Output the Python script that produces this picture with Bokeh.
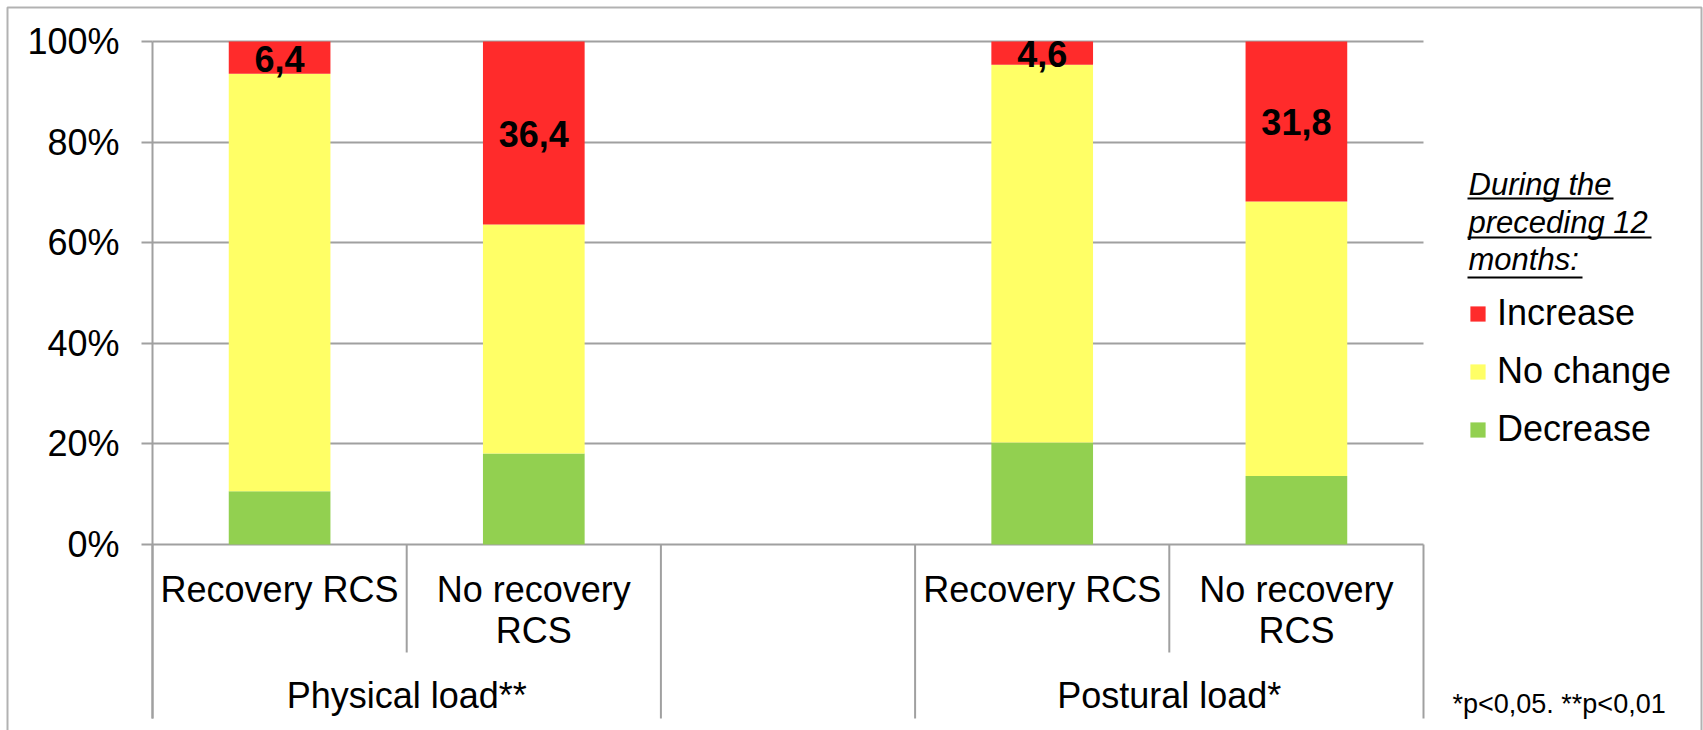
from bokeh.plotting import figure
from bokeh.models import (Range1d, FixedTicker, ColumnDataSource, Legend, LegendItem,
                          BoxAnnotation)
from bokeh.core.properties import value
from bokeh.embed import file_html
from bokeh.resources import INLINE

# ---------------- data ----------------
groups = ["Physical load**", "Postural load*"]
subcats = ["Recovery RCS", "No recovery\nRCS"]
decrease = [10.6, 18.1, 20.3, 13.6]
no_change = [83.0, 45.5, 75.1, 54.6]
increase = [6.4, 36.4, 4.6, 31.8]
series = ["Increase", "No change", "Decrease"]
y_ticks = [0, 20, 40, 60, 80, 100]
y_tick_labels = ["0%", "20%", "40%", "60%", "80%", "100%"]
legend_title = ["During the", "preceding 12", "months:"]
footnote = "*p<0,05. **p<0,01"

colors = {"Increase": "#FF2B2B", "No change": "#FFFF66", "Decrease": "#92D050"}
GRAY = "#A0A0A0"
FONT = "Liberation Sans"

# ---------------- layout helpers ----------------
W, H = 1703, 730
LEFT = 152                   # canvas x of the value axis
UNIT_PX = 254.2              # px per category slot
PCT_PX = 5.03                # px per percent
ZERO_Y = 544                 # canvas y of 0 %
n_sub = len(subcats)
n_slots = len(groups) * (n_sub + 1) - 1


def dx(px):   # canvas x -> data x
    return (px - LEFT) / UNIT_PX


def dy(py):   # canvas y -> data y
    return (ZERO_Y - py) / PCT_PX


xs, sub_labels = [], []
for gi, g in enumerate(groups):
    for si, s in enumerate(subcats):
        xs.append(gi * (n_sub + 1) + si + 0.5)
        sub_labels.append(s)

p = figure(width=W, height=H, x_range=Range1d(dx(0), dx(W)), y_range=Range1d(dy(H), dy(0)),
           output_backend="svg", toolbar_location=None, x_axis_location=None,
           min_border_left=0, min_border_right=0, min_border_top=0, min_border_bottom=0)
p.outline_line_color = None
p.background_fill_color = "white"
p.border_fill_color = "white"

# y axis (drawn at x = 0 inside the frame)
ax = p.yaxis[0]
ax.fixed_location = 0
ax.ticker = FixedTicker(ticks=y_ticks, minor_ticks=[])
ax.major_label_overrides = {t: l for t, l in zip(y_ticks, y_tick_labels)}
ax.bounds = (dy(718), 100)
ax.axis_line_color = GRAY
ax.axis_line_width = 2
ax.major_tick_line_color = GRAY
ax.major_tick_line_width = 2
ax.major_tick_out = 11
ax.major_tick_in = 0
ax.minor_tick_line_color = None
ax.major_label_text_font = FONT
ax.major_label_text_font_size = "36px"
ax.major_label_text_color = "black"
ax.major_label_standoff = 22

# grid
p.xgrid.visible = False
p.ygrid.ticker = FixedTicker(ticks=y_ticks, minor_ticks=[])
p.ygrid.grid_line_color = GRAY
p.ygrid.grid_line_width = 2
try:
    p.ygrid.cross_bounds = (0, n_slots)
except Exception:
    p.ygrid.visible = False
    p.segment(x0=[0] * len(y_ticks), x1=[n_slots] * len(y_ticks), y0=y_ticks, y1=y_ticks,
              line_color=GRAY, line_width=2)

# category dividers below the axis
sub_div = [gi * (n_sub + 1) + si for gi in range(len(groups)) for si in range(1, n_sub)]
grp_div = sorted({gi * (n_sub + 1) for gi in range(len(groups))} |
                 {gi * (n_sub + 1) + n_sub for gi in range(len(groups))})
p.segment(x0=sub_div, x1=sub_div, y0=[0] * len(sub_div), y1=[dy(652)] * len(sub_div),
          line_color=GRAY, line_width=2)
p.segment(x0=grp_div, x1=grp_div, y0=[0] * len(grp_div), y1=[dy(718)] * len(grp_div),
          line_color=GRAY, line_width=2)

# stacked bars
src = ColumnDataSource(dict(x=xs, Decrease=decrease, **{"No change": no_change}, Increase=increase))
stack_order = ["Decrease", "No change", "Increase"]
rs = p.vbar_stack(stack_order, x="x", width=0.4, source=src,
                  color=[colors[s] for s in stack_order], line_color=None)
rmap = dict(zip(stack_order, rs))

# value labels in red segments
p.text(x=xs, y=[100 - v / 2 for v in increase],
       text=[f"{v:.1f}".replace(".", ",") for v in increase],
       text_font=value(FONT), text_font_style="bold", text_font_size="36px",
       text_align="center", text_baseline="middle", y_offset=1, text_color="black")

# category labels
p.text(x=xs, y=[dy(568)] * len(xs), text=sub_labels, text_font=value(FONT),
       text_font_size="36px", text_align="center", text_baseline="top",
       text_color="black", text_line_height=1.0)
p.text(x=[gi * (n_sub + 1) + n_sub / 2 for gi in range(len(groups))],
       y=[dy(674)] * len(groups), text=groups, text_font=value(FONT),
       text_font_size="36px", text_align="center", text_baseline="top", text_color="black")

# legend title (italic, underlined)
title_top = [166, 204, 241]
title_ul = [198, 237, 277]
title_w = [146, 184, 115]
p.text(x=[dx(1468)] * 3, y=[dy(t) for t in title_top], text=legend_title,
       text_font=value(FONT), text_font_style="italic", text_font_size="31px",
       text_align="left", text_baseline="top", text_color="black")
p.segment(x0=[dx(1467)] * 3, x1=[dx(1467 + w) for w in title_w],
          y0=[dy(u) for u in title_ul], y1=[dy(u) for u in title_ul],
          line_color="black", line_width=2)

# footnote
p.text(x=[dx(1452)], y=[dy(688)], text=[footnote], text_font=value(FONT),
       text_font_size="27px", text_align="left", text_baseline="top", text_color="black")

legend = Legend(items=[LegendItem(label=s, renderers=[rmap[s]]) for s in series],
                location=(1468, 280), glyph_width=19, glyph_height=19,
                label_text_font=FONT, label_text_font_size="36px", label_text_color="black",
                label_standoff=10, spacing=16, padding=0, margin=0, border_line_color=None,
                background_fill_alpha=0)
p.add_layout(legend)

# outer border
try:
    border = BoxAnnotation(left=7, right=1701, top=7, bottom=H + 40,
                           left_units="canvas", right_units="canvas",
                           top_units="canvas", bottom_units="canvas",
                           fill_alpha=0, line_color="black", line_width=2, level="overlay")
except Exception:
    border = BoxAnnotation(left=7, right=1701, top=7, bottom=H + 40,
                           left_units="screen", right_units="screen",
                           top_units="screen", bottom_units="screen",
                           fill_alpha=0, line_color="black", line_width=2, level="overlay")
p.add_layout(border)

open("out.html", "w").write(file_html(p, INLINE))
